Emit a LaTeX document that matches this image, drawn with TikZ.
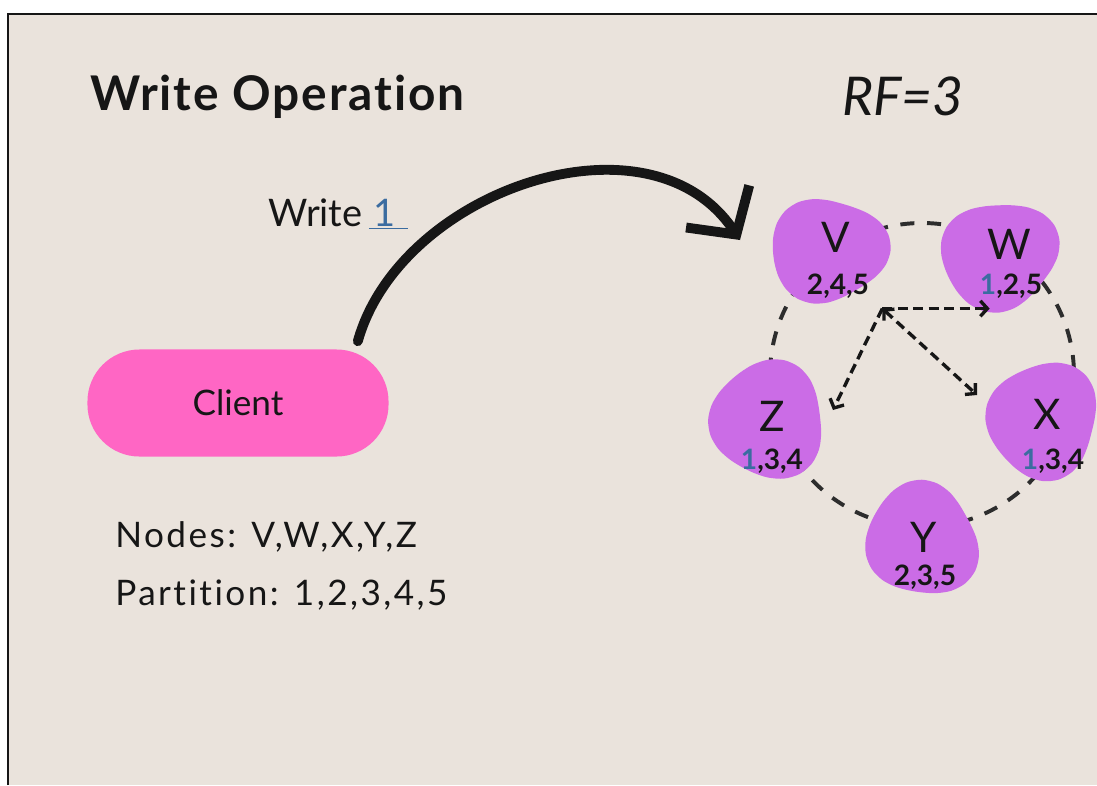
\documentclass[tikz,border=0pt]{standalone}
\usepackage{fontspec}
\setmainfont{Lato}[Ligatures=NoCommon]
\usetikzlibrary{arrows.meta,calc,positioning,backgrounds}
\definecolor{paper}{RGB}{234,227,220}
\definecolor{clientpink}{RGB}{255,102,196}
\definecolor{nodepurple}{RGB}{203,108,230}
\definecolor{partblue}{RGB}{59,108,160}
\definecolor{ink}{RGB}{22,22,22}

% wobbly node blob: centre, x radius, y radius, phase
\newcommand{\blob}[4]{%
  \fill[nodepurple, shift={(#1)}] plot[smooth cycle, domain=0:345, samples=24, variable=\t]
    ({(#2+4*cos(3*\t+#4)+2*cos(2*\t+#4))*cos(\t)}, {(#3+4*cos(3*\t+#4)+2*cos(2*\t+#4))*sin(\t)});}

\begin{document}
\begin{tikzpicture}[x=0.025cm, y=-0.025cm, %
  every node/.style={text=ink, inner sep=0pt}, %
  heading/.style={anchor=base west, font=\fontsize{34}{40}\selectfont\bfseries\addfontfeatures{LetterSpace=4}}, %
  notes/.style={anchor=base west, font=\fontsize{25}{30}\selectfont\addfontfeatures{LetterSpace=7}}, %
  clientbox/.style={fill=clientpink, rounded corners=1.3cm, minimum width=7.525cm, %
    minimum height=2.675cm, font=\fontsize{25}{30}\selectfont}, %
  letter/.style={font=\fontsize{30}{34}\selectfont}, %
  parts/.style={font=\fontsize{20}{24}\selectfont\bfseries}, %
  ringline/.style={draw=ink!90, line width=2.8pt, dash pattern=on 10pt off 9pt}, %
  copytip/.tip={Straight Barb[length=5pt,width=11pt]}, %
  copyarrow/.style={draw=ink, line width=2.4pt, dash pattern=on 7pt off 4pt, -copytip}, %
  bigarrow/.style={draw=ink, line width=7pt, line cap=round, %
    -{Straight Barb[length=24pt,width=54pt]}}]
\useasboundingbox (0,0) rectangle (1097,785);

% texts
\node[heading] (title) at (90,110) {Write Operation};
\node[heading, font=\fontsize{38}{42}\selectfont\itshape] (rf) at (842,115) {RF=3};
\node[anchor=base west, font=\fontsize{27}{32}\selectfont] (write) at (268,226)
  {Write\,{\color{partblue}\underline{\hspace{3pt}1\hspace{9pt}}}};
\node[clientbox] (client) at (238,403) {Client};
\node[notes] (nodelist) at (115,547) {Nodes: V,W,X,Y,Z};
\node[notes] (partlist) at (115,605) {Partition: 1,2,3,4,5};

% replica nodes
\node[letter] (V) at (836,237) {V};
\node[parts] (Vp) at (838,286) {2,4,5};
\node[letter] (W) at (1009,244) {W};
\node[parts] (Wp) at (1011,286) {{\color{partblue}1},2,5};
\node[letter] (Z) at (772,416) {Z};
\node[parts] (Zp) at (772,461) {{\color{partblue}1},3,4};
\node[letter] (X) at (1047,414) {X};
\node[parts] (Xp) at (1053,461) {{\color{partblue}1},3,4};
\node[letter] (Y) at (924,537) {Y};
\node[parts] (Yp) at (925,577) {2,3,5};

\coordinate (ring) at (922,375);
\coordinate (vin) at (740,240);
\coordinate (fan) at ($(Vp.south east)+(13,10)$);
\coordinate (toW) at ($(Wp.south west)+(10,10)$);
\coordinate (toX) at ($(X.west)+(-56,-19)$);
\coordinate (toZ) at ($(Z.east)+(48,-6)$);

\begin{scope}[on background layer]
  \fill[white] (0,0) rectangle (1097,785);
  \fill[paper] (8,14) rectangle (1097,785);
  \draw[ink, line width=1.5pt] (8,785) -- (8,14) -- (1097,14);
  \draw[ringline] (ring) circle [radius=152];
  \blob{$(V)+(-8,13)$}{57}{53}{20}
  \blob{$(W)+(-10,11)$}{58}{54}{80}
  \blob{$(Z)+(-4,4)$}{58}{57}{200}
  \blob{$(X)+(-4,6)$}{56}{57}{140}
  \blob{$(Y)+(-2,3)$}{56}{56}{260}
\end{scope}

% write path from the client
\draw[bigarrow] ($(client.north east)+(-31,-8)$) .. controls (400,190) and (650,105) .. (vin);

% replication to the other holders
\draw[copyarrow] (fan) -- (toW);
\draw[copyarrow, copytip-copytip] (fan) -- (toX);
\draw[copyarrow] (fan) -- (toZ);
\end{tikzpicture}
\end{document}
